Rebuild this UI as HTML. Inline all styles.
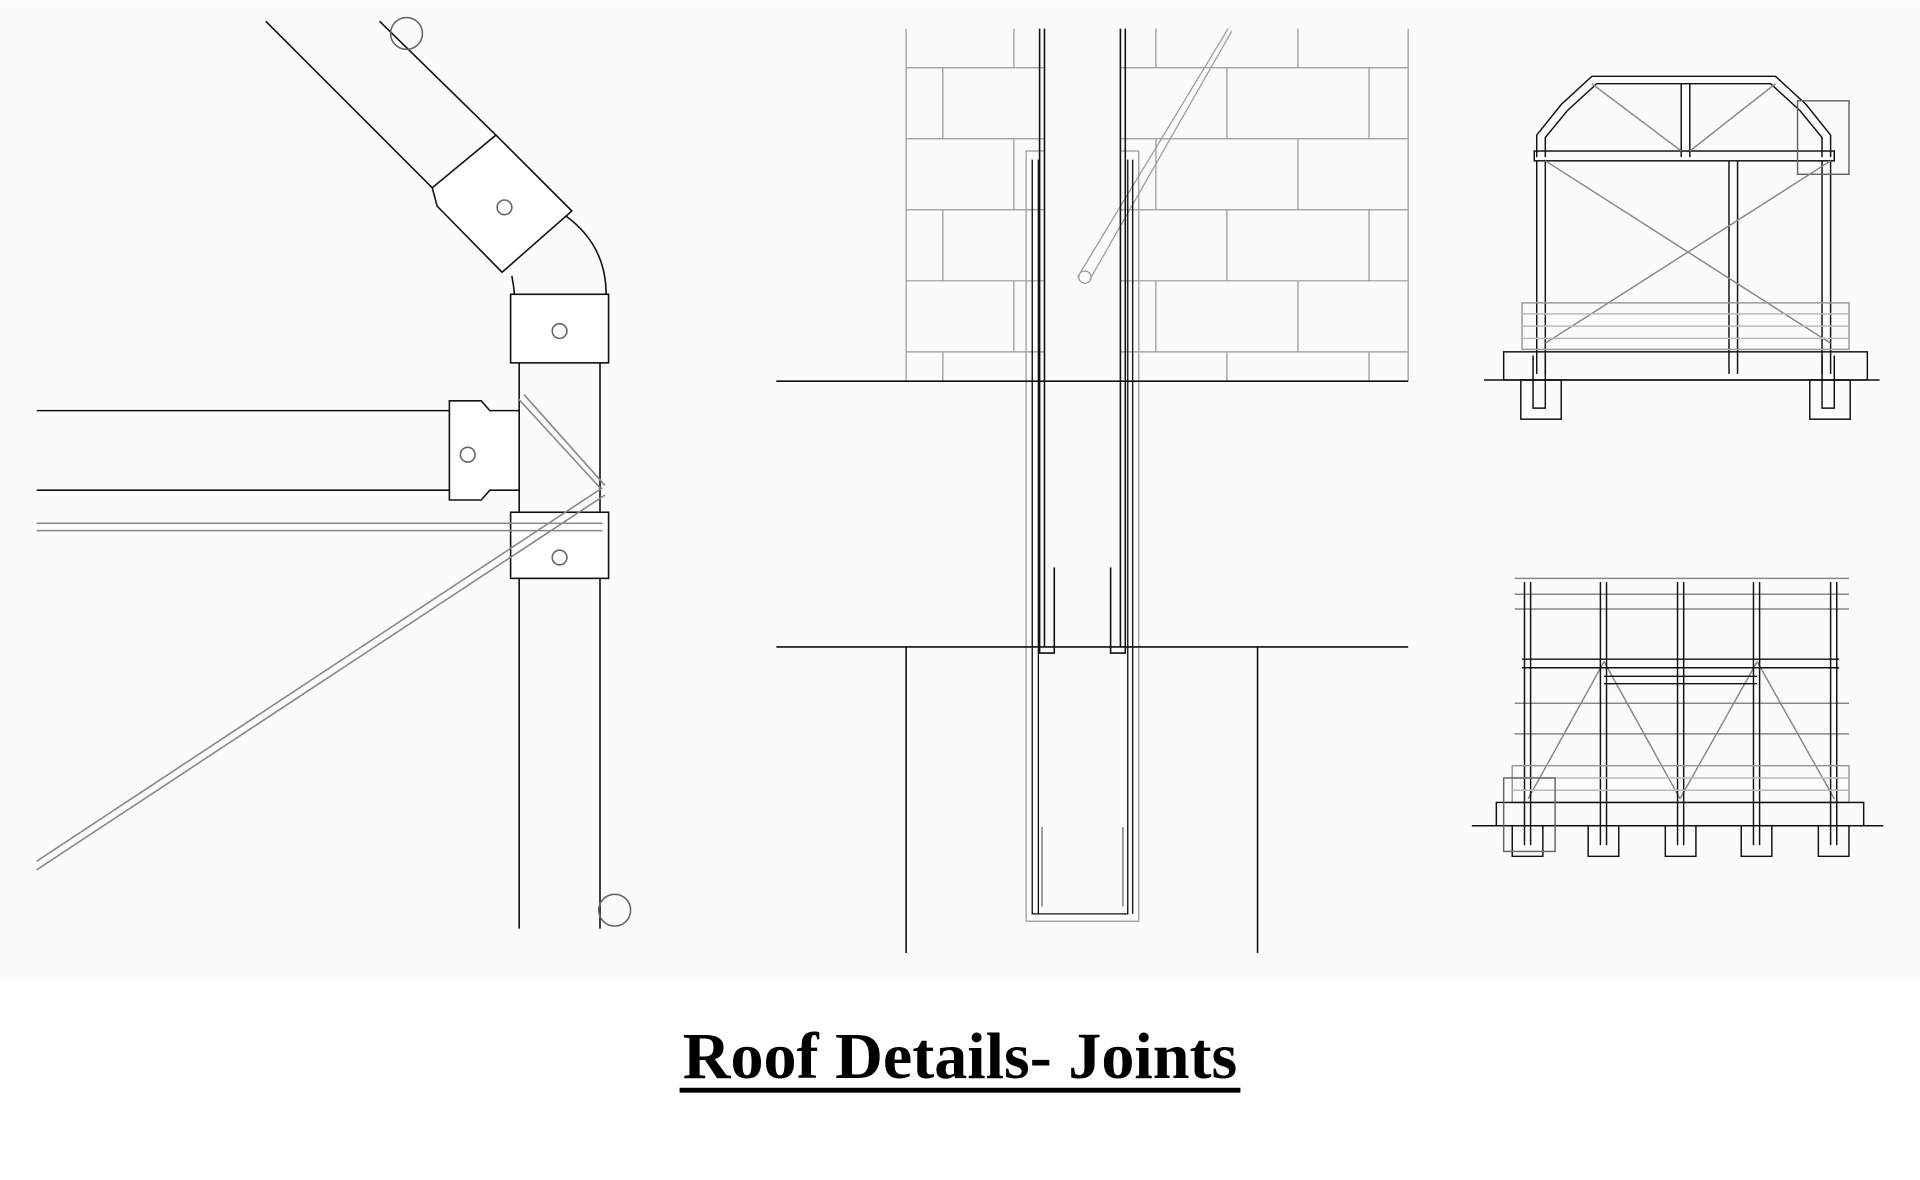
<!DOCTYPE html>
<html><head><meta charset="utf-8"><style>
html,body{margin:0;padding:0;background:#fff;width:1920px;height:1180px;overflow:hidden}
svg{display:block}
</style></head><body>
<svg width="1920" height="1180" viewBox="0 0 1568 963" xmlns="http://www.w3.org/2000/svg">
<rect x="0" y="0" width="1568" height="800" fill="#fbfbfb"/>
<g fill="none" stroke="#111" stroke-width="1.3">
<!-- LEFT PANEL -->
<line x1="217" y1="17" x2="353" y2="153"/>
<line x1="310" y1="17" x2="405" y2="110"/>
<path d="M405,110 L467,172 L410,222 L357,168 L353,153 Z" fill="#fff"/>
<circle cx="332" cy="27" r="13" stroke="#666"/>
<circle cx="412" cy="169" r="6" stroke="#666"/>
<path d="M418,225 Q420,236 420,240 M462,176 Q495,200 495,240"/>
<rect x="417" y="240" width="80" height="56" fill="#fff"/>
<circle cx="457" cy="270" r="6" stroke="#666"/>
<line x1="424" y1="296" x2="424" y2="758"/>
<line x1="490" y1="296" x2="490" y2="758"/>
<line x1="30" y1="335" x2="367" y2="335"/>
<line x1="30" y1="400" x2="367" y2="400"/>
<path d="M367,327 L393,327 L400,335 L424,335 L424,400 L400,400 L393,408 L367,408 Z" fill="#fff"/>
<circle cx="382" cy="371" r="6" stroke="#666"/>
<rect x="417" y="418" width="80" height="54" fill="#fff"/>
<circle cx="457" cy="455" r="6" stroke="#666"/>
<g stroke="#888">
<line x1="30" y1="427" x2="492" y2="427"/>
<line x1="30" y1="433" x2="492" y2="433"/>
<line x1="30" y1="703" x2="492" y2="398"/>
<line x1="30" y1="710" x2="494" y2="404"/>
<line x1="423" y1="325" x2="490" y2="398"/>
<line x1="428" y1="322" x2="494" y2="396"/>
</g>
<circle cx="502" cy="743" r="13" stroke="#666"/>

<!-- MIDDLE PANEL -->
<g stroke="#999" stroke-width="1">
<line x1="740" y1="23" x2="740" y2="311"/>
<line x1="1150" y1="23" x2="1150" y2="311"/>
<line x1="740" y1="55" x2="1150" y2="55"/>
<line x1="740" y1="113" x2="1150" y2="113"/>
<line x1="740" y1="171" x2="1150" y2="171"/>
<line x1="740" y1="229" x2="1150" y2="229"/>
<line x1="740" y1="287" x2="1150" y2="287"/>
<path d="M828,23V55 M944,23V55 M1060,23V55 M770,55V113 M1002,55V113 M1118,55V113 M828,113V171 M944,113V171 M1060,113V171 M770,171V229 M1002,171V229 M1118,171V229 M828,229V287 M944,229V287 M1060,229V287 M770,287V311 M1002,287V311 M1118,287V311"/>
<rect x="838" y="123" width="92" height="629"/>
</g>
<rect x="853" y="23" width="62" height="508" fill="#fbfbfb" stroke="none"/>
<g stroke="#999" stroke-width="1">
<path d="M880,226 L1003,23 M890,228 L1006,25"/>
<circle cx="886" cy="226" r="5"/>
</g>
<path d="M849,23V533H861V463 M853,23V528 M919,23V533H907V463 M915,23V528"/>
<line x1="634" y1="311" x2="1150" y2="311"/>
<line x1="634" y1="528" x2="1150" y2="528"/>
<line x1="740" y1="528" x2="740" y2="778"/>
<line x1="1027" y1="528" x2="1027" y2="778"/>
<path d="M843,130V746H921V130 M848,130V746 M925,130V746" stroke-width="1.1"/>
<path d="M851,675V740 M917,675V740" stroke="#888"/>

<!-- RIGHT TOP -->
<g stroke-width="1.2">
<path d="M1255,128 L1255,110 L1275,85 L1300,62 L1450,62 L1475,85 L1495,110 L1495,128"/>
<path d="M1262,128 L1262,112 L1280,90 L1304,68 L1446,68 L1470,90 L1488,112 L1488,128"/>
<rect x="1253" y="123" width="245" height="8"/>
<path d="M1255,131V305 M1262,131V305 M1488,131V305 M1495,131V305 M1412,131V305 M1419,131V305 M1373,68V128 M1380,68V128"/>
<rect x="1468" y="82" width="42" height="60" stroke="#666"/>
<g stroke="#888"><line x1="1262" y1="131" x2="1495" y2="280"/><line x1="1495" y1="131" x2="1262" y2="280"/><line x1="1300" y1="68" x2="1373" y2="123"/><line x1="1450" y1="68" x2="1380" y2="123"/></g>
<rect x="1243" y="247" width="267" height="38" stroke="#999"/>
<path d="M1243,256H1510 M1243,266H1510 M1243,276H1510" stroke="#bbb"/>
<rect x="1228" y="287" width="297" height="23"/>
<line x1="1212" y1="310" x2="1535" y2="310"/>
<rect x="1242" y="310" width="33" height="32"/>
<rect x="1478" y="310" width="33" height="32"/>
<path d="M1252,290V333H1262V290 M1488,290V333H1498V290"/>
</g>

<!-- RIGHT BOTTOM -->
<g stroke-width="1.2">
<g stroke="#888"><path d="M1237,472H1510 M1237,485H1510 M1237,497H1510 M1237,574H1510 M1237,599H1510"/>
<path d="M1248,652 L1310,540 M1310,540 L1372,652 M1372,652 L1435,540 M1435,540 L1498,652"/></g>
<path d="M1243,538H1502 M1243,545H1502 M1310,552H1435 M1310,558H1435"/>
<path d="M1245,475V690 M1250,475V690 M1307,475V690 M1312,475V690 M1370,475V690 M1375,475V690 M1432,475V690 M1437,475V690 M1495,475V690 M1500,475V690"/>
<rect x="1235" y="625" width="275" height="30" stroke="#999"/>
<path d="M1235,635H1510 M1235,645H1510" stroke="#bbb"/>
<rect x="1222" y="655" width="300" height="19"/>
<line x1="1202" y1="674" x2="1538" y2="674"/>
<path d="M1235,674v25h25v-25 M1297,674v25h25v-25 M1360,674v25h25v-25 M1422,674v25h25v-25 M1485,674v25h25v-25"/>
<rect x="1228" y="635" width="42" height="60" stroke="#666"/>
</g>
</g>
<text x="784" y="880" text-anchor="middle" font-family="Liberation Serif, serif" font-weight="bold" font-size="54" fill="#000">Roof Details- Joints</text>
<rect x="555" y="888" width="458" height="4" fill="#000"/>
</svg>
</body></html>
